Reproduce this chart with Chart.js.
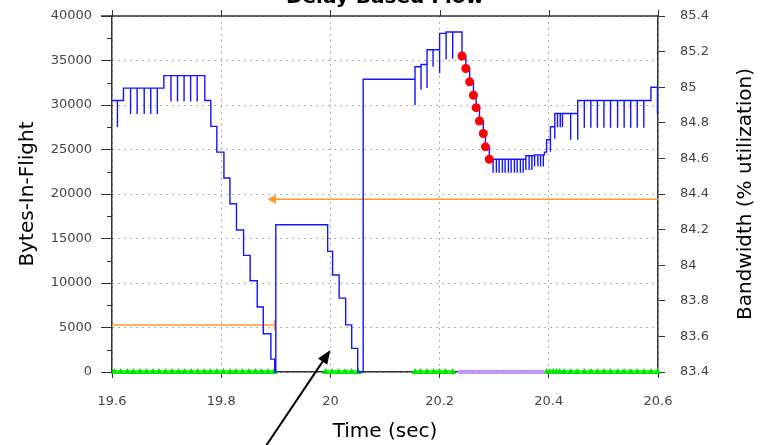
<!DOCTYPE html>
<html>
<head>
<meta charset="utf-8">
<script src="https://cdn.jsdelivr.net/npm/chart.js@4.4.0/dist/chart.umd.min.js"></script>
<style>
    body { margin: 0; background: #fff; }
    canvas { display: block; }
</style>
</head>
<body>
<canvas id="graficoFluxo" width="769" height="445"></canvas>
<script>

// degraus da linha azul: tempo, nivel depois do degrau, queda (risco vertical) ou null
const passoTempo = [19.600, 19.610, 19.621, 19.634, 19.646, 19.659, 19.671, 19.683, 19.695, 19.708,
    19.720, 19.732, 19.744, 19.756, 19.770, 19.781, 19.792, 19.805, 19.816, 19.828,
    19.841, 19.853, 19.866, 19.877, 19.891, 19.898, 19.900, 19.995, 20.004, 20.016,
    20.028, 20.039, 20.050, 20.060, 20.155, 20.166, 20.177, 20.188, 20.200, 20.212,
    20.224, 20.241, 20.248, 20.255, 20.262, 20.267, 20.273, 20.280, 20.284, 20.291,
    20.298, 20.304, 20.309, 20.315, 20.320, 20.326, 20.331, 20.337, 20.342, 20.348,
    20.353, 20.358, 20.364, 20.369, 20.374, 20.380, 20.385, 20.390, 20.392, 20.396,
    20.403, 20.411, 20.416, 20.421, 20.425, 20.440, 20.453, 20.465, 20.477, 20.489,
    20.501, 20.513, 20.526, 20.538, 20.550, 20.562, 20.574, 20.587, 20.599];
const passoNivel = [30500, 30500, 31900, 31900, 31900, 31900, 31900, 31900, 33300, 33300,
    33300, 33300, 33300, 33300, 30500, 27600, 24700, 21800, 18900, 15950,
    13100, 10250, 7300, 4300, 1450, 0, 16550, 13550, 10900, 8300,
    5300, 2650, 0, 32900, 34300, 34550, 36200, 36200, 38050, 38200,
    38200, 35500, 34100, 32600, 31100, 29700, 28200, 26800, 25300, 23900,
    23900, 23900, 23900, 23900, 23900, 23900, 23900, 23900, 23900, 23900,
    23900, 24300, 24300, 24300, 24400, 24400, 24400, 24400, 24700, 26100,
    27550, 29050, 29050, 29050, 29050, 29050, 30500, 30500, 30500, 30500,
    30500, 30500, 30500, 30500, 30500, 30500, 30500, 32000, 32000];
const passoQueda = [null, 27500, null, 29000, 29000, 29000, 29000, 29000, null, 30400,
    30400, 30400, 30400, 30400, null, null, null, null, null, null,
    null, null, null, null, null, null, null, null, null, null,
    null, null, null, null, 30000, 31700, 31900, 34300, 33600, 35100,
    35200, null, null, null, null, null, null, null, null, null,
    22400, 22400, 22400, 22400, 22400, 22400, 22400, 22400, 22400, 22400,
    22400, 22700, 22700, 22700, 23100, 23100, 23100, 23100, null, 24750,
    24750, 26200, 27500, 27500, 27500, 26100, 26100, 27450, 27450, 27450,
    27450, 27450, 27450, 27450, 27450, 27450, 27450, null, 29050];

// pontos vermelhos
const perdaTempo = [20.241, 20.248, 20.255, 20.262, 20.267, 20.273, 20.280, 20.284, 20.291];
const perdaBytes = [35500, 34100, 32600, 31100, 29700, 28200, 26800, 25300, 23900];

// triangulos verdes (trechos) e roxos
const ackTrecho1 = [19.604, 19.616, 19.628, 19.639, 19.651, 19.663, 19.675, 19.686, 19.698, 19.710,
    19.722, 19.733, 19.745, 19.757, 19.769, 19.780, 19.792, 19.804, 19.816, 19.827,
    19.839, 19.851, 19.863, 19.874, 19.886, 19.897];
const ackTrecho2 = [19.991, 20.003, 20.015, 20.027, 20.039, 20.051];
const ackTrecho3 = [20.155, 20.165, 20.177, 20.189, 20.200, 20.211, 20.224];
const ackTrecho4 = [20.396, 20.402, 20.408, 20.414, 20.420, 20.428, 20.440, 20.452, 20.465, 20.477,
    20.489, 20.501, 20.513, 20.526, 20.538, 20.550, 20.562, 20.574, 20.587, 20.599];
const sackTempo = [20.236, 20.242, 20.247, 20.253, 20.258, 20.264, 20.269, 20.275, 20.280, 20.286,
    20.291, 20.297, 20.302, 20.308, 20.313, 20.319, 20.324, 20.330, 20.335, 20.341,
    20.346, 20.352, 20.357, 20.363, 20.368, 20.374, 20.379, 20.385, 20.390];

// banda (eixo direito)
const banda1Tempo = [19.600, 19.898];
const banda1Valor = 83.664;
const banda2Tempo = [19.895, 20.600];
const banda2Valor = 84.37;

// seta de anotacao (tempo, bytes)
const setaDe = [19.882, -8300];
const setaPara = [20.0, 2470];

const tituloGrafico = 'Delay Based Flow';

let graficoFluxo;

document.addEventListener('DOMContentLoaded', function() {
    carregarGraficoFluxo();
});


function montarDegraus() {
    const pts = [];
    for (let i = 0; i < passoTempo.length; i++) {
        if (passoQueda[i] !== null) pts.push({ x: passoTempo[i], y: passoQueda[i] });
        pts.push({ x: passoTempo[i], y: passoNivel[i] });
    }
    return pts;
}

function montarAcks() {
    const pts = [];
    [ackTrecho1, ackTrecho2, ackTrecho3, ackTrecho4].forEach((trecho) => {
        trecho.forEach((t) => pts.push({ x: t, y: 0 }));
        pts.push({ x: trecho[trecho.length - 1], y: null });
    });
    return pts;
}

const formatoDecimal = (v) => String(+Number(v).toFixed(1));

// tira o espaco extra que o chart.js reserva para os rotulos
function ajustarVertical(largura) {
    return (s) => {
        s.width = largura;
        s.paddingTop = 0;
        s.paddingBottom = 0;
    };
}

const extrasPlugin = {
    id: 'extras',
    afterDraw(chart) {
        const { ctx, chartArea, scales } = chart;
        const x = scales.x, y = scales.y;
        ctx.save();

        // borda superior e riscos de cima
        ctx.strokeStyle = '#333';
        ctx.lineWidth = 1.5;
        ctx.beginPath();
        ctx.moveTo(chartArea.left - 11, chartArea.top);
        ctx.lineTo(chartArea.right, chartArea.top);
        ctx.stroke();
        ctx.lineWidth = 1;
        x.ticks.forEach((tk) => {
            const px = Math.round(x.getPixelForValue(tk.value)) + 0.5;
            ctx.beginPath();
            ctx.moveTo(px, chartArea.top - 6);
            ctx.lineTo(px, chartArea.top);
            ctx.stroke();
        });

        // riscos menores do eixo esquerdo
        for (let v = 2500; v < 40000; v += 5000) {
            const py = Math.round(y.getPixelForValue(v)) + 0.5;
            ctx.beginPath();
            ctx.moveTo(chartArea.left - 5, py);
            ctx.lineTo(chartArea.left, py);
            ctx.stroke();
        }

        // seta preta
        const x1 = x.getPixelForValue(setaDe[0]), y1 = y.getPixelForValue(setaDe[1]);
        const x2 = x.getPixelForValue(setaPara[0]), y2 = y.getPixelForValue(setaPara[1]);
        const ang = Math.atan2(y2 - y1, x2 - x1);
        const tam = 14, larg = 5.5;
        const bx = x2 - tam * Math.cos(ang), by = y2 - tam * Math.sin(ang);
        ctx.strokeStyle = '#000';
        ctx.fillStyle = '#000';
        ctx.lineWidth = 2;
        ctx.beginPath();
        ctx.moveTo(x1, y1);
        ctx.lineTo(bx, by);
        ctx.stroke();
        ctx.beginPath();
        ctx.moveTo(x2, y2);
        ctx.lineTo(bx + larg * Math.sin(ang), by - larg * Math.cos(ang));
        ctx.lineTo(bx - larg * Math.sin(ang), by + larg * Math.cos(ang));
        ctx.closePath();
        ctx.fill();

        // titulo cortado no topo
        ctx.font = 'bold 20px "DejaVu Sans"';
        ctx.textAlign = 'center';
        ctx.textBaseline = 'alphabetic';
        ctx.fillText(tituloGrafico, (chartArea.left + chartArea.right) / 2, 3);

        // titulo do eixo direito, lido de baixo para cima
        ctx.font = '20px "DejaVu Sans"';
        ctx.textBaseline = 'middle';
        ctx.translate(746, (chartArea.top + chartArea.bottom) / 2);
        ctx.rotate(-Math.PI / 2);
        ctx.fillText('Bandwidth (% utilization)', 0, 0);
        ctx.restore();
    }
};


function carregarGraficoFluxo() {
    Chart.defaults.font.family = "'DejaVu Sans', Verdana, sans-serif";
    Chart.defaults.color = '#444';

    const ctx = document.getElementById('graficoFluxo').getContext('2d');

    if (graficoFluxo) {
        graficoFluxo.destroy();
    }

    graficoFluxo = new Chart(ctx, {
        type: 'line',
        data: {
            datasets: [
                {
                    label: 'Perdas',
                    data: perdaTempo.map((t, i) => ({ x: t, y: perdaBytes[i] })),
                    showLine: false,
                    pointRadius: 4.5,
                    pointBackgroundColor: '#ff0000',
                    pointBorderWidth: 0,
                    clip: false
                },
                {
                    label: 'Bytes-In-Flight',
                    data: montarDegraus(),
                    stepped: 'before',
                    borderColor: '#1414ff',
                    borderWidth: 1.4,
                    pointRadius: 0,
                    clip: false
                },
                {
                    label: 'Banda 2',
                    yAxisID: 'y1',
                    data: banda2Tempo.map((t) => ({ x: t, y: banda2Valor })),
                    borderColor: '#ff9a2e',
                    borderWidth: 1.5,
                    pointStyle: 'triangle',
                    rotation: -90,
                    pointRadius: (c) => c.dataIndex === 0 ? 4 : 0,
                    pointBackgroundColor: '#ff9a2e',
                    pointBorderColor: '#ff9a2e'
                },
                {
                    label: 'Banda 1',
                    yAxisID: 'y1',
                    data: banda1Tempo.map((t) => ({ x: t, y: banda1Valor })),
                    borderColor: '#ff9a2e',
                    borderWidth: 1.5,
                    pointStyle: 'line',
                    rotation: 90,
                    pointRadius: (c) => c.dataIndex === 1 ? 5 : 0,
                    pointBorderWidth: 2,
                    pointBorderColor: '#ff9a2e'
                },
                {
                    label: 'SACK',
                    data: sackTempo.map((t) => ({ x: t, y: 0 })),
                    borderColor: '#b884ee',
                    borderWidth: 4,
                    pointStyle: 'triangle',
                    pointRadius: 3,
                    pointBackgroundColor: '#c49af0',
                    pointBorderWidth: 0,
                    clip: false
                },
                {
                    label: 'ACK',
                    data: montarAcks(),
                    spanGaps: false,
                    borderColor: '#33ff33',
                    borderWidth: 4,
                    pointStyle: 'triangle',
                    pointRadius: 4,
                    pointBackgroundColor: '#00e600',
                    pointBorderWidth: 0,
                    clip: false
                }
            ]
        },
        options: {
            responsive: false,
            animation: false,
            layout: { padding: { top: 16, right: 0, left: 0, bottom: 0 } },
            plugins: {
                legend: { display: false },
                tooltip: { enabled: false }
            },
            scales: {
                x: {
                    type: 'linear',
                    min: 19.6,
                    max: 20.6,
                    afterFit: (s) => { s.height = 73; },
                    ticks: {
                        stepSize: 0.2,
                        padding: 16,
                        font: { size: 13 },
                        color: '#444',
                        callback: formatoDecimal
                    },
                    grid: {
                        color: '#999',
                        tickColor: '#333',
                        tickLength: 6
                    },
                    border: { color: '#333', width: 1.5, dash: [1.5, 4.5] },
                    title: {
                        display: true,
                        text: 'Time (sec)',
                        color: '#000',
                        font: { size: 20 },
                        padding: { top: 0, bottom: 1 }
                    }
                },
                y: {
                    position: 'left',
                    min: 0,
                    max: 40000,
                    afterFit: ajustarVertical(112),
                    ticks: {
                        stepSize: 5000,
                        padding: 9,
                        font: { size: 13 },
                        color: '#444',
                        callback: (v) => String(v)
                    },
                    grid: {
                        color: '#999',
                        tickColor: '#333',
                        tickLength: 11
                    },
                    border: { color: '#333', width: 1.5, dash: [1.5, 4.5] },
                    title: {
                        display: true,
                        text: 'Bytes-In-Flight',
                        color: '#000',
                        font: { size: 20 },
                        padding: { top: 16, bottom: 0 }
                    }
                },
                y1: {
                    position: 'right',
                    min: 83.4,
                    max: 85.4,
                    afterFit: ajustarVertical(111),
                    ticks: {
                        stepSize: 0.2,
                        padding: 15,
                        font: { size: 13 },
                        color: '#444',
                        callback: formatoDecimal
                    },
                    grid: {
                        drawOnChartArea: false,
                        tickColor: '#333',
                        tickLength: 7
                    },
                    border: { color: '#333', width: 1.5 }
                }
            }
        },
        plugins: [extrasPlugin]
    });
}
</script>
</body>
</html>
